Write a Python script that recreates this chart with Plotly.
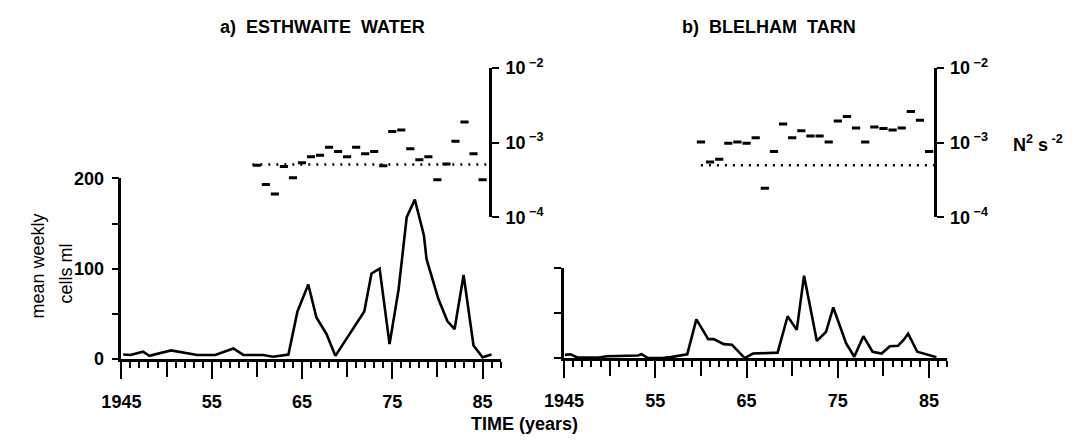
import plotly.graph_objects as go

# ---------------- data ----------------
esth_year = [1945.2, 1946.0, 1947.4, 1948.1, 1950.5, 1953.4, 1955.4, 1957.4, 1958.5, 1960.7,
             1961.8, 1963.5, 1964.5, 1965.7, 1966.6, 1967.7, 1968.7, 1970.6, 1971.9, 1972.7,
             1973.6, 1974.7, 1975.7, 1976.6, 1977.5, 1978.5, 1978.8, 1980.1, 1981.1, 1981.9,
             1982.9, 1984.0, 1985.0, 1986.0]
esth_cells = [5, 4.5, 8, 3.5, 9.5, 4.5, 4.5, 11.6, 4.5, 4.5,
              2.5, 5, 52.6, 82.5, 46, 28, 3.5, 33, 52.6, 94.7,
              100, 16.5, 77, 157, 176.5, 137, 110.5, 66.7, 42, 33,
              93, 15, 2, 5]

blel_year = [1945.1, 1945.7, 1946.5, 1948.8, 1949.7, 1953.1, 1953.5, 1954.2, 1955.8, 1956.7,
             1958.5, 1959.5, 1960.8, 1961.4, 1962.5, 1963.4, 1964.8, 1965.7, 1968.4, 1969.5,
             1970.5, 1971.3, 1972.7, 1973.7, 1974.5, 1975.9, 1976.8, 1977.8, 1978.8, 1979.8,
             1980.7, 1981.6, 1982.2, 1982.7, 1983.7, 1985.0, 1985.8]
blel_cells = [3.5, 4.2, 0.5, 0.5, 2, 2.8, 4.2, 0, 0, 1,
              4.2, 42.8, 21, 21, 15.4, 14.7, 0, 5, 6, 46.3,
              31.2, 91.2, 19, 28.8, 56, 16.5, 1.4, 24.2, 7, 5,
              13, 13.6, 20, 27, 7, 3, 1]

n2_years = list(range(1960, 1986))
esth_n2 = [5.0e-4, 2.75e-4, 2.05e-4, 4.8e-4, 3.4e-4, 5.4e-4, 6.5e-4, 6.8e-4, 8.7e-4, 7.6e-4,
           6.5e-4, 8.7e-4, 7.1e-4, 7.6e-4, 4.9e-4, 1.41e-3, 1.48e-3, 8.3e-4, 5.9e-4, 6.5e-4,
           3.2e-4, 5.2e-4, 1.05e-3, 1.9e-3, 7.1e-4, 3.2e-4]
blel_n2 = [1.02e-3, 5.5e-4, 6.0e-4, 9.8e-4, 1.02e-3, 9.8e-4, 1.17e-3, 2.45e-4, 7.6e-4, 1.78e-3,
           1.17e-3, 1.45e-3, 1.23e-3, 1.23e-3, 1.02e-3, 1.95e-3, 2.24e-3, 1.58e-3, 1.02e-3, 1.62e-3,
           1.55e-3, 1.48e-3, 1.58e-3, 2.63e-3, 2.0e-3, 7.6e-4]

esth_threshold = 5.1e-4
esth_threshold_span = [1959.5, 1986.0]
blel_threshold = 5.0e-4
blel_threshold_span = [1960.0, 1985.6]

x_label_vals = [1945, 1955, 1965, 1975, 1985]
x_label_text = ["1945", "55", "65", "75", "85"]
x_long_tick_vals = [1950, 1960, 1970, 1980]
y_label_vals = [0, 100, 200]
y_label_text = ["0", "100", "200"]
n2_tickvals = [1e-4, 1e-3, 1e-2]
n2_ticktext = ["10<sup> \u22124</sup>", "10<sup> \u22123</sup>", "10<sup> \u22122</sup>"]

# ---------------- layout helpers ----------------
W, H = 1078, 446
FONT = "Liberation Sans"
FS = 18


def fx(p):
    return p / W


def fy(p):
    return (H - p) / H


def dash_segments(years, vals, half=0.45):
    xs, ys = [], []
    for yr, v in zip(years, vals):
        xs += [yr - half, yr + half, None]
        ys += [v, v, None]
    return xs, ys


fig = go.Figure()

line_style = dict(color="black", width=2.6)

fig.add_trace(go.Scatter(x=esth_year, y=esth_cells, mode="lines", line=line_style,
                         xaxis="x", yaxis="y", cliponaxis=False, showlegend=False))
fig.add_trace(go.Scatter(x=blel_year, y=blel_cells, mode="lines", line=line_style,
                         xaxis="x2", yaxis="y2", cliponaxis=False, showlegend=False))

ex, ey = dash_segments(n2_years, esth_n2)
fig.add_trace(go.Scatter(x=ex, y=ey, mode="lines", line=dict(color="black", width=3),
                         xaxis="x", yaxis="y3", cliponaxis=False, showlegend=False))
bx, by = dash_segments(n2_years, blel_n2)
fig.add_trace(go.Scatter(x=bx, y=by, mode="lines", line=dict(color="black", width=3),
                         xaxis="x2", yaxis="y4", cliponaxis=False, showlegend=False))

fig.add_trace(go.Scatter(x=esth_threshold_span, y=[esth_threshold] * 2, mode="lines",
                         line=dict(color="black", width=2.4, dash="2px,6px"),
                         xaxis="x", yaxis="y3", cliponaxis=False, showlegend=False))
fig.add_trace(go.Scatter(x=blel_threshold_span, y=[blel_threshold] * 2, mode="lines",
                         line=dict(color="black", width=2.4, dash="2px,6px"),
                         xaxis="x2", yaxis="y4", cliponaxis=False, showlegend=False))

# invisible helper traces so the overlay tick axes are drawn
fig.add_trace(go.Scatter(x=[1945], y=[0], mode="markers", marker=dict(opacity=0),
                         xaxis="x3", yaxis="y", showlegend=False, hoverinfo="skip"))
fig.add_trace(go.Scatter(x=[1945], y=[0], mode="markers", marker=dict(opacity=0),
                         xaxis="x4", yaxis="y2", showlegend=False, hoverinfo="skip"))

tickfont = dict(family=FONT, size=FS, color="black", weight="bold")

xcommon = dict(range=[1945, 1987], showgrid=False, zeroline=False, showline=True,
               linecolor="black", linewidth=2.6, ticks="outside", ticklen=17, tickwidth=2.4,
               tickcolor="black", tickvals=x_label_vals, ticktext=x_label_text,
               tickfont=tickfont, ticklabelstandoff=8,
               minor=dict(dtick=1, tick0=1945, ticks="outside", ticklen=6, tickwidth=2,
                          tickcolor="black", showgrid=False))

xlong = dict(range=[1945, 1987], showgrid=False, zeroline=False, showline=False,
             ticks="outside", ticklen=17, tickwidth=2.4, tickcolor="black",
             tickvals=x_long_tick_vals, showticklabels=False)

ycommon = dict(showgrid=False, zeroline=False, showline=True, linecolor="black", linewidth=2.6,
               ticks="outside", ticklen=7, tickwidth=2.4, tickcolor="black", tickfont=tickfont)

n2common = dict(type="log", range=[-4, -2], showgrid=False, zeroline=False, showline=True,
                linecolor="black", linewidth=2.6, ticks="outside", ticklen=7, tickwidth=2.4,
                tickcolor="black", tickvals=n2_tickvals, ticktext=n2_ticktext,
                tickfont=tickfont, side="right", anchor="free",
                domain=[fy(216), fy(59)], ticklabelstandoff=3)

fig.update_layout(
    width=W, height=H, margin=dict(l=0, r=0, t=0, b=0),
    paper_bgcolor="white", plot_bgcolor="rgba(0,0,0,0)",
    font=dict(family=FONT, size=FS, color="black"),
    xaxis=dict(xcommon, domain=[fx(103.3), fx(103.3 + 42 * 9.2)], anchor="y"),
    xaxis2=dict(xcommon, domain=[fx(554.3), fx(554.3 + 42 * 9.3)], anchor="y2"),
    xaxis3=dict(xlong, overlaying="x", anchor="y"),
    xaxis4=dict(xlong, overlaying="x2", anchor="y2"),
    yaxis=dict(ycommon, range=[0, 200], domain=[fy(365), fy(175)], anchor="x",
               tickvals=y_label_vals, ticktext=y_label_text, ticklabelstandoff=4,
               minor=dict(dtick=50, tick0=0, ticks="outside", ticklen=7, tickwidth=2.4,
                          tickcolor="black", showgrid=False)),
    yaxis2=dict(ycommon, range=[0, 100], domain=[fy(364), fy(269)], anchor="x2",
                tickvals=[0, 50, 100], showticklabels=False),
    yaxis3=dict(n2common, position=fx(479)),
    yaxis4=dict(n2common, position=fx(932)),
)

bold = dict(family=FONT, size=FS, color="black", weight="bold")
regular = dict(family=FONT, size=FS, color="black")
ann = [
    dict(text="a)  ESTHWAITE  WATER", x=fx(202), y=fy(16), xanchor="left", font=bold),
    dict(text="b)  BLELHAM  TARN", x=fx(672), y=fy(16), xanchor="left", font=bold),
    dict(text="TIME (years)", x=fx(514), y=fy(433), xanchor="center", font=bold),
    dict(text="mean weekly", x=fx(18), y=fy(267), xanchor="center", textangle=-90, font=regular),
    dict(text="cells ml", x=fx(47), y=fy(275), xanchor="center", textangle=-90, font=regular),
    dict(text="N<sup>2</sup> s<sup> -2</sup>", x=fx(1010), y=fy(138), xanchor="left", font=bold),
]
for a in ann:
    a.update(xref="paper", yref="paper", yanchor="middle", showarrow=False)
fig.update_layout(annotations=ann)

fig.write_html("out.html")
